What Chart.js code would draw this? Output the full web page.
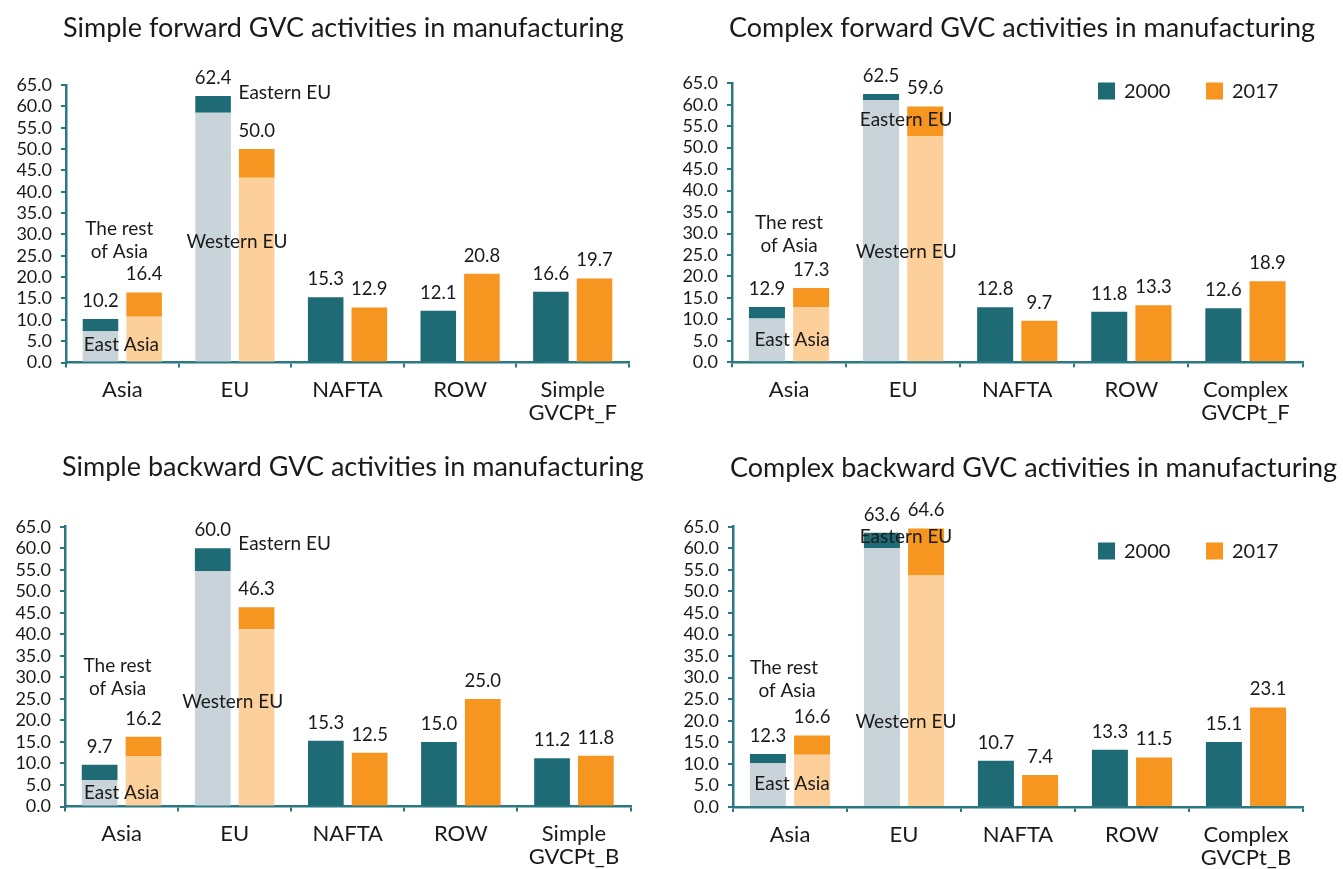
<!DOCTYPE html>
<html><head><meta charset="utf-8">
<script src="https://cdn.jsdelivr.net/npm/chart.js@4.4.0/dist/chart.umd.min.js"></script>
<style>
html,body{margin:0;padding:0;background:#fff;overflow:hidden;}
#wrap{position:relative;width:1343px;height:869px;}
canvas{position:absolute;}
</style></head><body>
<div id="wrap">
<canvas id="c1" width="671" height="434" style="left:0px;top:0px"></canvas>
<canvas id="c2" width="672" height="434" style="left:671px;top:0px"></canvas>
<canvas id="c3" width="671" height="435" style="left:0px;top:434px"></canvas>
<canvas id="c4" width="672" height="435" style="left:671px;top:434px"></canvas>
</div>
<script>
// ---------- DATA ----------
const seriesNames = ['2000', '2017'];
const chartTitles = [
  'Simple forward GVC activities in manufacturing',
  'Complex forward GVC activities in manufacturing',
  'Simple backward GVC activities in manufacturing',
  'Complex backward GVC activities in manufacturing'
];
const categoriesSF = ['Asia', 'EU', 'NAFTA', 'ROW', ['Simple', 'GVCPt_F']];
const categoriesCF = ['Asia', 'EU', 'NAFTA', 'ROW', ['Complex', 'GVCPt_F']];
const categoriesSB = ['Asia', 'EU', 'NAFTA', 'ROW', ['Simple', 'GVCPt_B']];
const categoriesCB = ['Asia', 'EU', 'NAFTA', 'ROW', ['Complex', 'GVCPt_B']];

// totals (labelled values)
const sf2000 = [10.2, 62.4, 15.3, 12.1, 16.6];
const sf2017 = [16.4, 50.0, 12.9, 20.8, 19.7];
const cf2000 = [12.9, 62.5, 12.8, 11.8, 12.6];
const cf2017 = [17.3, 59.6, 9.7, 13.3, 18.9];
const sb2000 = [9.7, 60.0, 15.3, 15.0, 11.2];
const sb2017 = [16.2, 46.3, 12.5, 25.0, 11.8];
const cb2000 = [12.3, 63.6, 10.7, 13.3, 15.1];
const cb2017 = [16.6, 64.6, 7.4, 11.5, 23.1];

// sub-parts: East Asia (in Asia) and Western EU (in EU)
const sfSub2000 = [7.3, 58.5, null, null, null];
const sfSub2017 = [10.7, 43.3, null, null, null];
const cfSub2000 = [10.2, 61.1, null, null, null];
const cfSub2017 = [12.9, 52.7, null, null, null];
const sbSub2000 = [6.1, 54.7, null, null, null];
const sbSub2017 = [11.6, 41.2, null, null, null];
const cbSub2000 = [10.2, 60.0, null, null, null];
const cbSub2017 = [12.1, 53.7, null, null, null];

const yTicksMin = 0, yTicksMax = 65, yTicksStep = 5;
const subLabelsAsia = ['The rest', 'of Asia', 'East Asia'];
const subLabelsEU = ['Western EU', 'Eastern EU'];

// ---------- STYLE ----------
const FONT = 'Lato, "Open Sans", sans-serif';
const TEXT = '#1a1a1a';
const AXIS = '#2a7882';
const C2000 = '#1f6b75', C2017 = '#f6951f';
const L2000 = '#c8d4d9', L2017 = '#fdd09b';

const annotationPlugin = {
  id: 'annot',
  afterDatasetsDraw(chart) {
    const o = chart.options.plugins.annot;
    const ctx = chart.ctx, xs = chart.scales.x, ys = chart.scales.y;
    ctx.save();
    ctx.fillStyle = TEXT;
    ctx.textAlign = 'center';
    ctx.textBaseline = 'middle';
    // value labels
    ctx.font = '18.5px ' + FONT;
    const stacks = [[0, 1], [2, 3]];
    stacks.forEach(([a, b]) => {
      const metaTop = chart.getDatasetMeta(b);
      const totals = chart.data.datasets[b].totals;
      totals.forEach((v, i) => {
        const el = metaTop.data[i];
        const y = ys.getPixelForValue(v) - 18;
        ctx.fillText(v.toFixed(1), el.x, y);
      });
    });
    // sub-part labels
    ctx.font = '19px ' + FONT;
    o.items.forEach(it => {
      const x = xs.getPixelForValue(it.cat) + it.dx;
      const y = ys.getPixelForValue(it.y);
      ctx.fillText(it.text, x, y);
    });
    // title
    ctx.textAlign = 'left';
    ctx.font = '27px ' + FONT;
    ctx.fillText(o.title, chart.chartArea.left - 3, o.titleY);
    // legend
    if (o.legend) {
      ctx.font = '20px ' + FONT;
      const lg = o.legend;
      [[1, 0], [3, 1]].forEach(([di, k]) => {
        const ds = chart.data.datasets[di];
        const bx = lg.x + k * lg.gap;
        ctx.fillStyle = ds.backgroundColor;
        ctx.fillRect(bx, lg.y - 8.5, 17, 17);
        ctx.fillStyle = TEXT;
        ctx.fillText(ds.label, bx + 26, lg.y + 1);
      });
    }
    ctx.restore();
  }
};

function makeChart(id, cats, t2000, t2017, s2000, s2017, area, titleIdx, titleY, items, legend) {
  const cv = document.getElementById(id);
  const W = cv.width, H = cv.height;
  const top2000 = t2000.map((v, i) => s2000[i] == null ? v : +(v - s2000[i]).toFixed(2));
  const top2017 = t2017.map((v, i) => s2017[i] == null ? v : +(v - s2017[i]).toFixed(2));
  const common = { categoryPercentage: 0.775, barPercentage: 0.815, borderWidth: 0 };
  return new Chart(cv, {
    type: 'bar',
    data: {
      labels: cats,
      datasets: [
        Object.assign({ label: seriesNames[0] + ' sub', data: s2000, backgroundColor: L2000, stack: 's2000' }, common),
        Object.assign({ label: seriesNames[0], data: top2000, totals: t2000, backgroundColor: C2000, stack: 's2000' }, common),
        Object.assign({ label: seriesNames[1] + ' sub', data: s2017, backgroundColor: L2017, stack: 's2017' }, common),
        Object.assign({ label: seriesNames[1], data: top2017, totals: t2017, backgroundColor: C2017, stack: 's2017' }, common)
      ]
    },
    options: {
      responsive: false,
      animation: false,
      devicePixelRatio: 1,
      layout: { padding: { top: area.top, right: W - area.right, left: 0, bottom: 0 } },
      plugins: {
        legend: { display: false },
        title: { display: false },
        tooltip: { enabled: false },
        annot: { items: items, title: chartTitles[titleIdx], titleY: titleY, legend: legend }
      },
      scales: {
        x: {
          stacked: true,
          z: 1,
          afterFit(s) { s.height = H - area.bottom; },
          border: { display: true, color: AXIS, width: 2.5 },
          grid: { display: true, drawOnChartArea: false, drawTicks: true, tickLength: 5, color: AXIS, lineWidth: 2, offset: true },
          ticks: { color: TEXT, font: { family: FONT, size: 22, lineHeight: 1.05 }, padding: 11, autoSkip: false, maxRotation: 0 }
        },
        y: {
          stacked: true,
          min: yTicksMin, max: yTicksMax,
          afterFit(s) { s.width = area.left; },
          border: { display: true, color: AXIS, width: 2.5 },
          grid: { display: true, drawOnChartArea: false, drawTicks: true, tickLength: 5, color: AXIS, lineWidth: 2 },
          ticks: { stepSize: yTicksStep, autoSkip: false, color: TEXT, font: { family: FONT, size: 18, lineHeight: 1 }, padding: 9,
                   callback: v => Number(v).toFixed(1) }
        }
      }
    },
    plugins: [annotationPlugin]
  });
}

function asiaEuItems(a) {
  return [
    { text: subLabelsAsia[0], cat: 0, dx: a[0][0], y: a[0][1] },
    { text: subLabelsAsia[1], cat: 0, dx: a[1][0], y: a[1][1] },
    { text: subLabelsAsia[2], cat: 0, dx: a[2][0], y: a[2][1] },
    { text: subLabelsEU[0], cat: 1, dx: a[3][0], y: a[3][1] },
    { text: subLabelsEU[1], cat: 1, dx: a[4][0], y: a[4][1] }
  ];
}

makeChart('c1', categoriesSF, sf2000, sf2017, sfSub2000, sfSub2017,
  { left: 66, right: 629, top: 85, bottom: 362.5 }, 0, 28,
  asiaEuItems([[-3, 31.2], [-3, 25.9], [-1, 4.1], [2, 28.2], [50, 63.1]]), null);

makeChart('c2', categoriesCF, cf2000, cf2017, cfSub2000, cfSub2017,
  { left: 61, right: 631.5, top: 83.3, bottom: 362.3 }, 1, 28,
  asiaEuItems([[0, 32.5], [0, 27.2], [3, 5.2], [3, 25.8], [3, 56.5]]),
  { x: 427, y: 91, gap: 108 });

makeChart('c3', categoriesSB, sb2000, sb2017, sbSub2000, sbSub2017,
  { left: 65, right: 630.5, top: 92.7, bottom: 372.5 }, 2, 33,
  asiaEuItems([[-4, 32.7], [-4, 27.3], [0, 3.2], [-2, 24.4], [50, 60.9]]), null);

makeChart('c4', categoriesCB, cb2000, cb2017, cbSub2000, cbSub2017,
  { left: 62, right: 632, top: 92.7, bottom: 373 }, 3, 34,
  asiaEuItems([[-6, 32.3], [-3, 26.9], [2, 5.3], [2, 19.8], [2, 62.6]]),
  { x: 427, y: 117, gap: 108 });
</script>
</body></html>
